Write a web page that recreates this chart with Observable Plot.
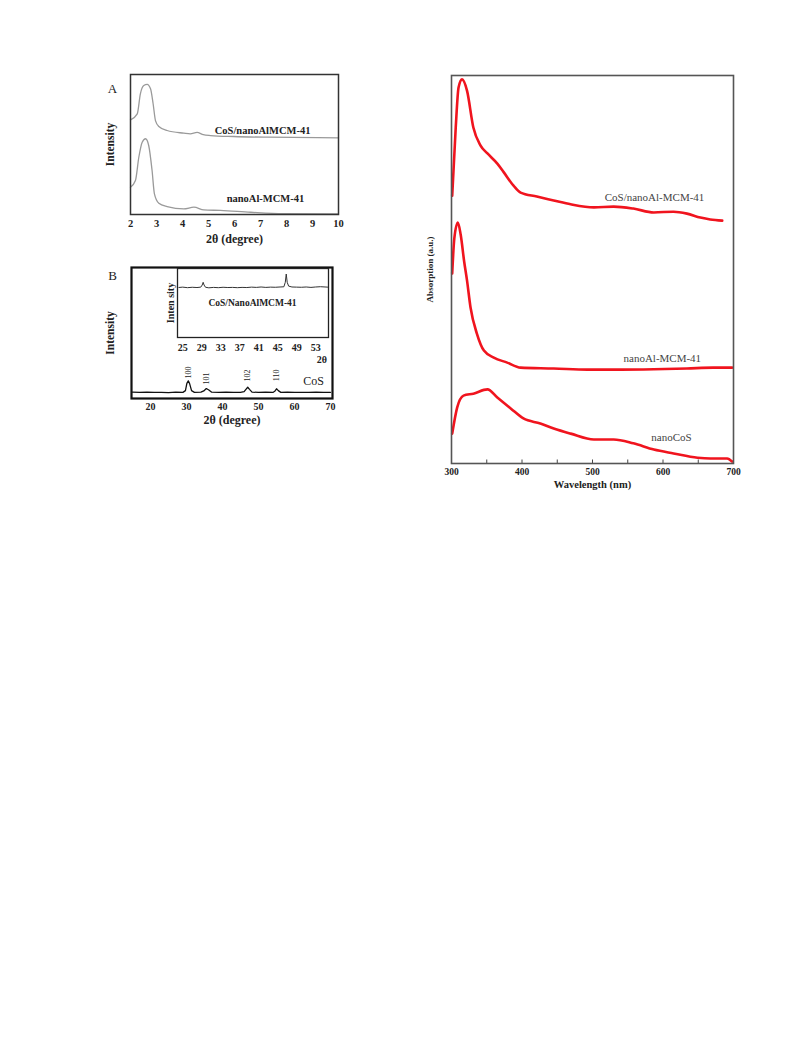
<!DOCTYPE html>
<html><head><meta charset="utf-8">
<script src="https://cdn.jsdelivr.net/npm/d3@7"></script>
<script src="https://cdn.jsdelivr.net/npm/@observablehq/plot@0.6"></script>
<style>
body{margin:0;background:#fff;}
#page{position:relative;width:793px;height:1057px;background:#fff;overflow:hidden;}
.panel{position:absolute;}
.panel svg{overflow:visible;}
</style></head><body><div id="page"></div>
<script>
// ---------- Panel A: low-angle XRD ----------
const aTicks = [2,3,4,5,6,7,8,9,10];
const aThetaCoSAl = [2.0,2.26,2.38,2.51,2.64,2.77,2.87,2.96,3.09,3.41,4.05,4.3,4.56,4.8,5.08,5.97,7.26,10];
const aValCoSAl   = [67.6,71.9,86.2,92.1,92.9,89.8,79.1,67.1,62.9,60,58.1,57.6,58.6,57,56.4,55.7,55.2,54.8];
const aThetaAl = [2.0,2.19,2.32,2.45,2.58,2.70,2.83,2.92,3.09,3.41,4.05,4.44,4.82,5.46,6.62,7.88,10];
const aValAl   = [19.5,24.3,40.9,51.6,54.1,49.3,31.4,14.8,8.1,5.7,4.0,5.2,3.3,2.9,1.6,0.6,0.4];
const aLabels = ["CoS/nanoAlMCM-41","nanoAl-MCM-41"];
const aLabelX = [7.08,7.19];
const aLabelY = [60,11.4];

// ---------- Panel B: wide-angle XRD of CoS ----------
const bTicks = [20,30,40,50,60,70];
const bTheta = [15,17,19,21,23,25,27,29,29.7,30.1,30.5,30.9,31.4,32.2,34,34.8,35.5,36.2,37,39,41,43,45,46,46.5,47,47.5,48.2,50,52,54,54.5,55,55.5,56.2,58,60,62,64,66,68,70];
const bCoS   = [4.8,4.6,4.9,4.6,4.7,4.5,4.8,4.7,6,11.5,13.5,11,6,4.7,4.8,5.8,7.6,6.5,4.8,4.6,4.8,4.6,4.7,5.2,7.0,8.6,7,4.9,4.6,4.8,4.6,5.5,7.4,6,4.7,4.8,4.6,4.7,4.6,4.8,4.6,4.7];
const bPeakLabels = ["100","101","102","110"];
const bPeakTheta  = [30.5,35.5,47,55];
const bPeakY      = [19.8,15.3,17.6,17.6];

// ---------- Inset of B ----------
const iTicks = [25,29,33,37,41,45,49,53];
const iTheta = [24.2,25,26,27,28,28.8,29.1,29.3,29.5,29.8,30.5,31.5,32.5,33.5,34.5,35.5,36.5,37.5,38.5,39.5,40.5,41.5,42.5,43.5,44.5,45.5,46.3,46.6,46.8,47.0,47.3,48,49,50,51,52,53,54,55.5];
const iVal   = [72.5,73,72.2,72.8,72.4,73,76,80,76,72.8,72,72.6,72.2,72.8,72.4,72.6,72.2,72.6,72.4,73,72.6,73.2,72.6,73,72.8,73.2,73.5,80,92,80,74.5,73.2,73,72.8,73.2,72.6,73.2,73.6,73];

// ---------- Right panel: UV-vis absorption ----------
const uvTicks = [300,400,500,600,700];
const uvMinor = [300,350,400,450,500,550,600,650,700];
const wlCoSAl = [301,306,310,315,322,331,341,351,365,374,388,398,421,445,469,502,530,558,587,615,634,653,667,684];
const vCoSAl  = [69,86.6,96.9,99.0,96.1,86.6,82.0,79.9,77.3,75.1,71.6,69.8,68.8,67.8,66.8,66.0,66.2,65.7,64.7,64.9,64.4,63.4,62.9,62.6];
const wlAl = [301,304,309,313,318,322,327,336,346,360,379,398,445,493,540,587,634,671,698];
const vAl  = [49,58,62.1,59,52,47.2,40.2,33.5,29.1,27.3,26.0,24.7,24.5,24.2,24.2,24.3,24.5,24.7,24.7];
const wlCoS = [301,308,317,331,351,365,384,402,426,445,469,502,530,558,587,615,649,667,691,698];
const vCoS  = [7.7,14.4,17.5,18.0,19.1,17.0,14.2,11.6,10.3,9.0,7.7,6.2,6.2,5.2,3.6,2.6,1.5,1.3,1.3,0.5];
const uvLabels = ["CoS/nanoAl-MCM-41","nanoAl-MCM-41","nanoCoS"];
const uvLabelX = [588,599,612];
const uvLabelY = [68.6,27.1,6.7];

const serif = "'Liberation Serif', 'Times New Roman', serif";
const page = document.getElementById("page");
function place(svg, left, top) {
  const d = document.createElement("div");
  d.className = "panel"; d.style.left = left + "px"; d.style.top = top + "px";
  d.appendChild(svg); page.appendChild(d);
}
const zip = (xs, ys) => xs.map((x, i) => ({x, y: ys[i]}));
const T = (s, o) => Plot.text([s], {text: d => d, fontFamily: serif, textAnchor: "middle", ...o});

// Panel A
place(Plot.plot({
  width: 250, height: 185, marginLeft: 30, marginRight: 12, marginTop: 4, marginBottom: 41,
  x: {domain: [2, 10]}, y: {domain: [0, 100]},
  style: {fontFamily: serif, background: "transparent", color: "#222"},
  marks: [
    Plot.axisX({ticks: aTicks, tickSize: 0, tickPadding: 5, fontWeight: "bold", fontSize: 10.5, label: null, tickFormat: d => d}),
    Plot.axisY({ticks: [], label: null}),
    Plot.line(zip(aThetaCoSAl, aValCoSAl), {x: "x", y: "y", stroke: "#9a9a9a", strokeWidth: 1.3, curve: "monotone-x"}),
    Plot.line(zip(aThetaAl, aValAl), {x: "x", y: "y", stroke: "#9a9a9a", strokeWidth: 1.3, curve: "monotone-x"}),
    Plot.text(aLabels, {x: (d, i) => aLabelX[i], y: (d, i) => aLabelY[i], text: d => d, fontWeight: "bold", fontSize: 10.5, fontFamily: serif}),
    Plot.frame({stroke: "#333", strokeWidth: 1.5}),
    T("2θ (degree)", {frameAnchor: "bottom", dy: 28, fontWeight: "bold", fontSize: 12}),
    T("Intensity", {frameAnchor: "left", dx: -20, rotate: -90, fontWeight: "bold", fontSize: 11.5}),
    T("A", {frameAnchor: "top-left", dx: -18, dy: 9, fontSize: 13})
  ]
}), 100, 70);

// Panel B
place(Plot.plot({
  width: 250, height: 180, marginLeft: 31, marginRight: 18, marginTop: 12, marginBottom: 37,
  x: {domain: [14.72, 70.55]}, y: {domain: [0, 100]},
  style: {fontFamily: serif, background: "transparent", color: "#222"},
  marks: [
    Plot.axisX({ticks: bTicks, tickSize: 0, tickPadding: 4, fontWeight: "bold", fontSize: 10, label: null}),
    Plot.axisY({ticks: [], label: null}),
    Plot.line(zip(bTheta, bCoS), {x: "x", y: "y", stroke: "#111", strokeWidth: 1.3}),
    Plot.text(bPeakLabels, {x: (d, i) => bPeakTheta[i], y: (d, i) => bPeakY[i], text: d => d, rotate: -90, fontSize: 8, fontFamily: serif}),
    T("CoS", {x: 65.3, y: 13, fontSize: 12}),
    Plot.frame({stroke: "#111", strokeWidth: 2.2}),
    T("2θ (degree)", {frameAnchor: "bottom", dy: 25, fontWeight: "bold", fontSize: 12}),
    T("Intensity", {frameAnchor: "left", dx: -21, rotate: -90, fontWeight: "bold", fontSize: 11.5}),
    T("B", {frameAnchor: "top-left", dx: -19, dy: 3, fontSize: 13})
  ]
}), 100, 255);

// Inset
place(Plot.plot({
  width: 175, height: 105, marginLeft: 17, marginRight: 7, marginTop: 6, marginBottom: 30,
  x: {domain: [23.9, 55.7]}, y: {domain: [0, 100]},
  style: {fontFamily: serif, background: "transparent", color: "#222"},
  marks: [
    Plot.axisX({ticks: iTicks, tickSize: 0, tickPadding: 6, fontWeight: "bold", fontSize: 10, label: null}),
    Plot.axisY({ticks: [], label: null}),
    Plot.line(zip(iTheta, iVal), {x: "x", y: "y", stroke: "#333", strokeWidth: 1}),
    T("CoS/NanoAlMCM-41", {x: 39.7, y: 50.7, fontWeight: "bold", fontSize: 9.5}),
    Plot.frame({stroke: "#222", strokeWidth: 1.3}),
    T("2θ", {x: 54.3, frameAnchor: "bottom", dy: 25, fontWeight: "bold", fontSize: 10}),
    T("Inten sity", {frameAnchor: "left", dx: -7, rotate: -90, fontWeight: "bold", fontSize: 10})
  ]
}), 160, 262);

// Right panel
place(Plot.plot({
  width: 320, height: 440, marginLeft: 31, marginRight: 7, marginTop: 15, marginBottom: 37,
  x: {domain: [300, 700]}, y: {domain: [0, 100]},
  style: {fontFamily: serif, background: "transparent", color: "#222"},
  marks: [
    Plot.axisX({ticks: uvTicks, tickSize: 0, tickPadding: 5, fontWeight: "bold", fontSize: 9.5, label: null}),
    Plot.axisY({ticks: [], label: null}),
    Plot.ruleX(uvMinor, {x: d => d, y1: 0, y2: 0.9, stroke: "#444"}),
    Plot.line(zip(wlCoSAl, vCoSAl), {x: "x", y: "y", stroke: "#f0141e", strokeWidth: 2.6, curve: "monotone-x"}),
    Plot.line(zip(wlAl, vAl), {x: "x", y: "y", stroke: "#f0141e", strokeWidth: 2.6, curve: "monotone-x"}),
    Plot.line(zip(wlCoS, vCoS), {x: "x", y: "y", stroke: "#f0141e", strokeWidth: 2.6, curve: "monotone-x"}),
    Plot.text(uvLabels, {x: (d, i) => uvLabelX[i], y: (d, i) => uvLabelY[i], text: d => d, fontSize: 11, fill: "#444", fontFamily: serif}),
    Plot.frame({stroke: "#555", strokeWidth: 1.6}),
    T("Wavelength (nm)", {frameAnchor: "bottom", dy: 24, fontWeight: "bold", fontSize: 10.5}),
    T("Absorption (a.u.)", {frameAnchor: "left", dx: -21, rotate: -90, fontWeight: "bold", fontSize: 9})
  ]
}), 420, 60);
</script></body></html>
